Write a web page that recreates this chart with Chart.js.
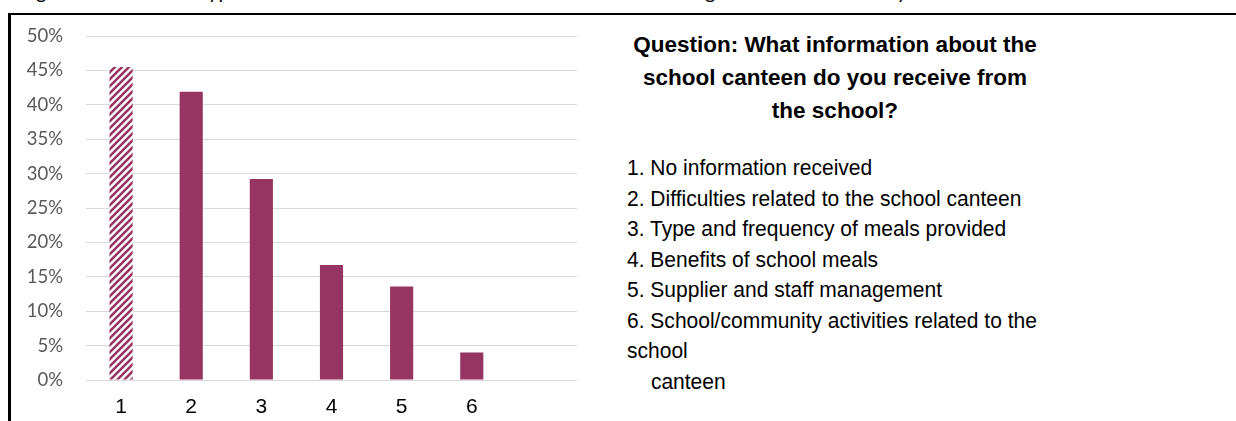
<!DOCTYPE html>
<html>
<head>
<meta charset="utf-8">
<script src="https://cdn.jsdelivr.net/npm/chart.js@4.4.0/dist/chart.umd.min.js"></script>
<style>
  html, body { margin: 0; padding: 0; background: #fff; }
  body { width: 1236px; height: 421px; position: relative; overflow: hidden; }
  #title { position: absolute; top: -21px; left: 0; width: 1236px; height: 26px;
           font: 20px Lato, sans-serif; line-height: 24px; color: #000; white-space: nowrap; }
  #title span { position: absolute; top: 0; }
  #frame { position: absolute; left: 8px; top: 13px; right: 0; bottom: -5px;
           border-left: 3px solid #000; border-top: 2px solid #000; pointer-events: none; background: transparent; }
  #chartBox { position: absolute; left: 0; top: 0; width: 600px; height: 421px; }
  #question { position: absolute; left: 610px; top: 28px; width: 450px; text-align: center;
              font: bold 22.5px "Liberation Sans", Arial, sans-serif; line-height: 33px; color: #000; }
  #items { position: absolute; left: 627px; top: 153px; font: 22px "Liberation Sans", Arial, sans-serif;
           line-height: 30.5px; color: #000; white-space: nowrap; transform: scaleX(0.955); transform-origin: 0 0; }
  #items .cont { padding-left: 25px; }
</style>
</head>
<body>
<div id="title">
  <span style="left:20px">Figure 10:</span>
  <span style="left:198px">Type of information about the school canteen</span>
  <span style="left:705px">given to households by the school</span>
</div>
<div id="chartBox"><canvas id="infoChart"></canvas></div>
<div id="question">Question: What information about the<br>school canteen do you receive from<br>the school?</div>
<div id="items"></div>
<div id="frame"></div>

<script>
// values
const categories = ['1', '2', '3', '4', '5', '6', ''];
const shares = [0.455, 0.419, 0.292, 0.167, 0.136, 0.040, null];
const answerLines = [
  '1. No information received',
  '2. Difficulties related to the school canteen',
  '3. Type and frequency of meals provided',
  '4. Benefits of school meals',
  '5. Supplier and staff management',
  '6. School/community activities related to the',
  'school'
];
const answerTail = 'canteen';

const barColor = '#963562';

// diagonal hatch for the "no information" bar
function hatch(color) {
  const c = document.createElement('canvas');
  c.width = 7; c.height = 7;
  const g = c.getContext('2d');
  g.fillStyle = '#fff';
  g.fillRect(0, 0, 7, 7);
  g.strokeStyle = color;
  g.lineWidth = 2.6;
  g.beginPath();
  g.moveTo(-2, 9); g.lineTo(9, -2);
  g.moveTo(-2, 2); g.lineTo(2, -2);
  g.moveTo(5, 9); g.lineTo(9, 5);
  g.stroke();
  return g.createPattern(c, 'repeat');
}

document.getElementById('items').innerHTML =
  answerLines.map(t => '<div>' + t + '</div>').join('') +
  '<div class="cont">' + answerTail + '</div>';

const ctx = document.getElementById('infoChart').getContext('2d');
const fills = shares.map((v, i) => i === 0 ? hatch(barColor) : barColor);

new Chart(ctx, {
  type: 'bar',
  data: {
    labels: categories,
    datasets: [{
      data: shares,
      backgroundColor: fills,
      borderWidth: 0,
      categoryPercentage: 1,
      barPercentage: 0.33
    }]
  },
  options: {
    responsive: true,
    maintainAspectRatio: false,
    animation: false,
    layout: { padding: { top: 36, right: 23, left: 0, bottom: 0 } },
    plugins: { legend: { display: false }, tooltip: { enabled: false } },
    scales: {
      x: {
        grid: { display: false, drawTicks: false },
        border: { display: false },
        ticks: { color: '#000', padding: 15, font: { family: '"Liberation Sans", Arial, sans-serif', size: 21 } },
        afterFit: s => { s.height = 41; }
      },
      y: {
        min: 0,
        max: 0.5,
        ticks: {
          stepSize: 0.05,
          padding: 23,
          color: '#595959',
          font: { family: 'Lato, sans-serif', size: 18.5 },
          callback: v => Math.round(v * 100) + '%'
        },
        grid: { color: '#d9d9d9', lineWidth: 1, drawTicks: false },
        border: { display: false },
        afterFit: s => { s.width = 86; }
      }
    }
  }
});
</script>
</body>
</html>
